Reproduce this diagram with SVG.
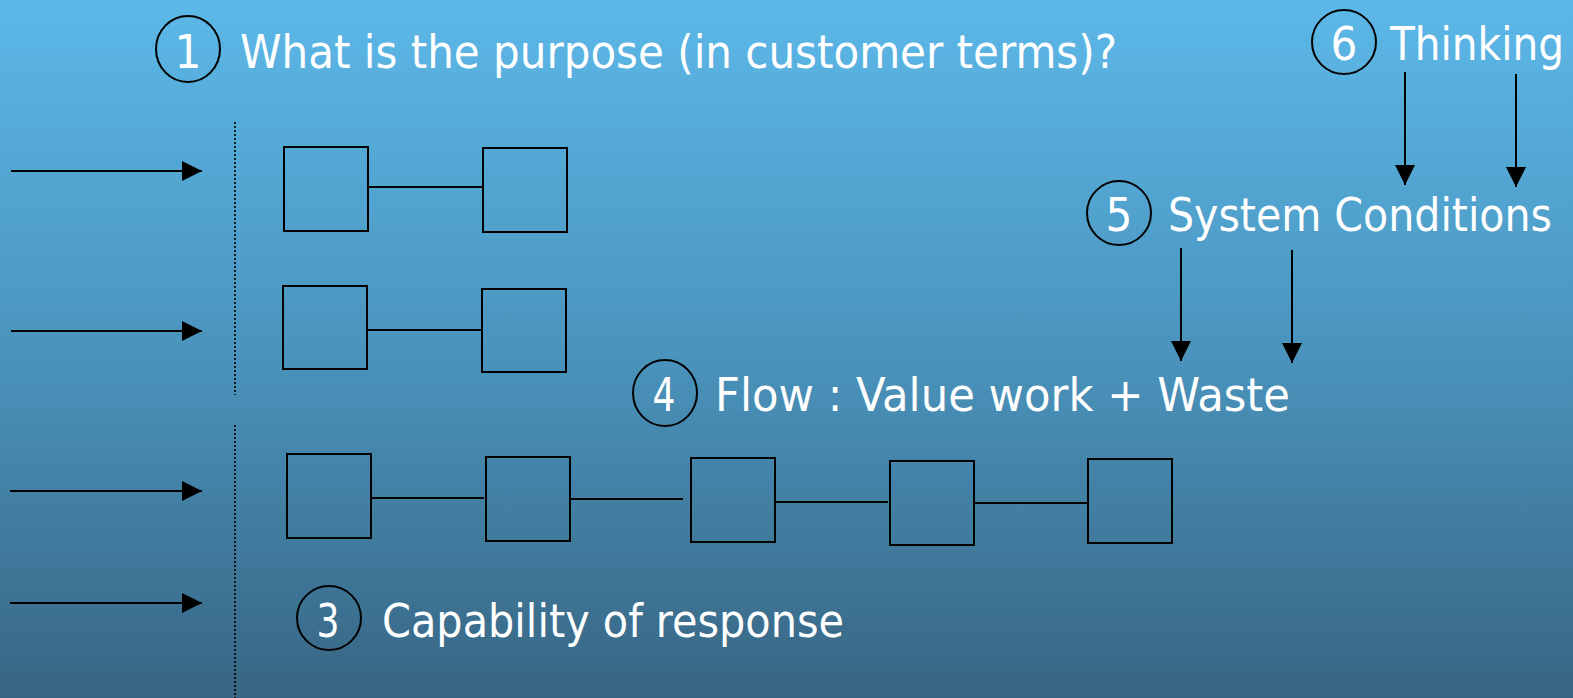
<svg xmlns="http://www.w3.org/2000/svg" width="1573" height="698" viewBox="0 0 1573 698">
  <defs>
    <linearGradient id="bg" x1="0" y1="0" x2="0" y2="1">
      <stop offset="0" stop-color="#5cb8e8"/>
      <stop offset="0.5" stop-color="#4a94bd"/>
      <stop offset="1" stop-color="#386583"/>
    </linearGradient>
    <marker id="head" viewBox="0 0 20 20" refX="20" refY="10" markerWidth="20" markerHeight="20" markerUnits="userSpaceOnUse" orient="auto">
      <path d="M0,0 L20,10 L0,20 Z" fill="#000"/>
    </marker>
    <style>
      .box { fill: none; stroke: #000; stroke-width: 2; }
      .link { stroke: #000; stroke-width: 2; fill: none; }
      .arrow { stroke: #000; stroke-width: 2; fill: none; marker-end: url(#head); }
      .divider { stroke: #000; stroke-width: 1.6; stroke-dasharray: 2 2; fill: none; }
      .ring { fill: none; stroke: #000; stroke-width: 2; }
      .label { font-family: "DejaVu Sans Condensed", "DejaVu Sans", "Liberation Sans", sans-serif; font-size: 47px; fill: #fff; }
      .num { font-family: "DejaVu Sans Condensed", "DejaVu Sans", "Liberation Sans", sans-serif; font-size: 47px; fill: #fff; text-anchor: middle; }
    </style>
  </defs>

  <rect x="0" y="0" width="1573" height="698" fill="url(#bg)"/>

  <!-- dotted boundary -->
  <g id="boundary">
    <line class="divider" x1="235" y1="122" x2="235" y2="395"/>
    <line class="divider" x1="235" y1="425" x2="235" y2="698"/>
  </g>

  <!-- connectors: incoming demand arrows, links between steps, influence arrows -->
  <g id="connectors">
    <line class="arrow" x1="11" y1="171" x2="202" y2="171"/>
    <line class="arrow" x1="11" y1="331" x2="202" y2="331"/>
    <line class="arrow" x1="10" y1="491" x2="202" y2="491"/>
    <line class="arrow" x1="10" y1="603" x2="202" y2="603"/>

    <line class="link" x1="368" y1="187" x2="483" y2="187"/>
    <line class="link" x1="367" y1="330" x2="482" y2="330"/>
    <line class="link" x1="371" y1="498" x2="484" y2="498"/>
    <line class="link" x1="570" y1="499" x2="683" y2="499"/>
    <line class="link" x1="775" y1="502" x2="888" y2="502"/>
    <line class="link" x1="974" y1="503" x2="1087" y2="503"/>

    <line class="arrow" x1="1405" y1="72" x2="1405" y2="185"/>
    <line class="arrow" x1="1516" y1="74" x2="1516" y2="187"/>
    <line class="arrow" x1="1181" y1="248" x2="1181" y2="361"/>
    <line class="arrow" x1="1292" y1="250" x2="1292" y2="363"/>
  </g>

  <!-- process steps -->
  <g id="step-1a"><rect class="box" x="284" y="147" width="84" height="84"/></g>
  <g id="step-1b"><rect class="box" x="483" y="148" width="84" height="84"/></g>
  <g id="step-2a"><rect class="box" x="283" y="286" width="84" height="83"/></g>
  <g id="step-2b"><rect class="box" x="482" y="289" width="84" height="83"/></g>
  <g id="step-3a"><rect class="box" x="287" y="454" width="84" height="84"/></g>
  <g id="step-3b"><rect class="box" x="486" y="457" width="84" height="84"/></g>
  <g id="step-3c"><rect class="box" x="691" y="458" width="84" height="84"/></g>
  <g id="step-3d"><rect class="box" x="890" y="461" width="84" height="84"/></g>
  <g id="step-3e"><rect class="box" x="1088" y="459" width="84" height="84"/></g>

  <!-- numbered headings -->
  <g id="purpose">
    <ellipse class="ring" cx="188" cy="49" rx="32" ry="33"/>
    <text class="num" x="188" y="68">1</text>
    <text class="label" x="240" y="68" textLength="877" lengthAdjust="spacingAndGlyphs">What is the purpose (in customer terms)?</text>
  </g>

  <g id="thinking">
    <ellipse class="ring" cx="1344" cy="42" rx="32" ry="32"/>
    <text class="num" x="1344" y="60">6</text>
    <text class="label" x="1390" y="60" textLength="174" lengthAdjust="spacingAndGlyphs">Thinking</text>
  </g>

  <g id="system-conditions">
    <ellipse class="ring" cx="1119" cy="213" rx="32" ry="32"/>
    <text class="num" x="1119" y="231">5</text>
    <text class="label" x="1168" y="231" textLength="384" lengthAdjust="spacingAndGlyphs">System Conditions</text>
  </g>

  <g id="flow">
    <ellipse class="ring" cx="665" cy="393" rx="32" ry="33"/>
    <text class="num" x="664" y="411" textLength="23" lengthAdjust="spacingAndGlyphs">4</text>
    <text class="label" x="715" y="411" textLength="575" lengthAdjust="spacingAndGlyphs">Flow : Value work + Waste</text>
  </g>

  <g id="capability">
    <ellipse class="ring" cx="329" cy="618" rx="32" ry="32"/>
    <text class="num" x="328" y="637" textLength="23" lengthAdjust="spacingAndGlyphs">3</text>
    <text class="label" x="382" y="637" textLength="462" lengthAdjust="spacingAndGlyphs">Capability of response</text>
  </g>
</svg>
